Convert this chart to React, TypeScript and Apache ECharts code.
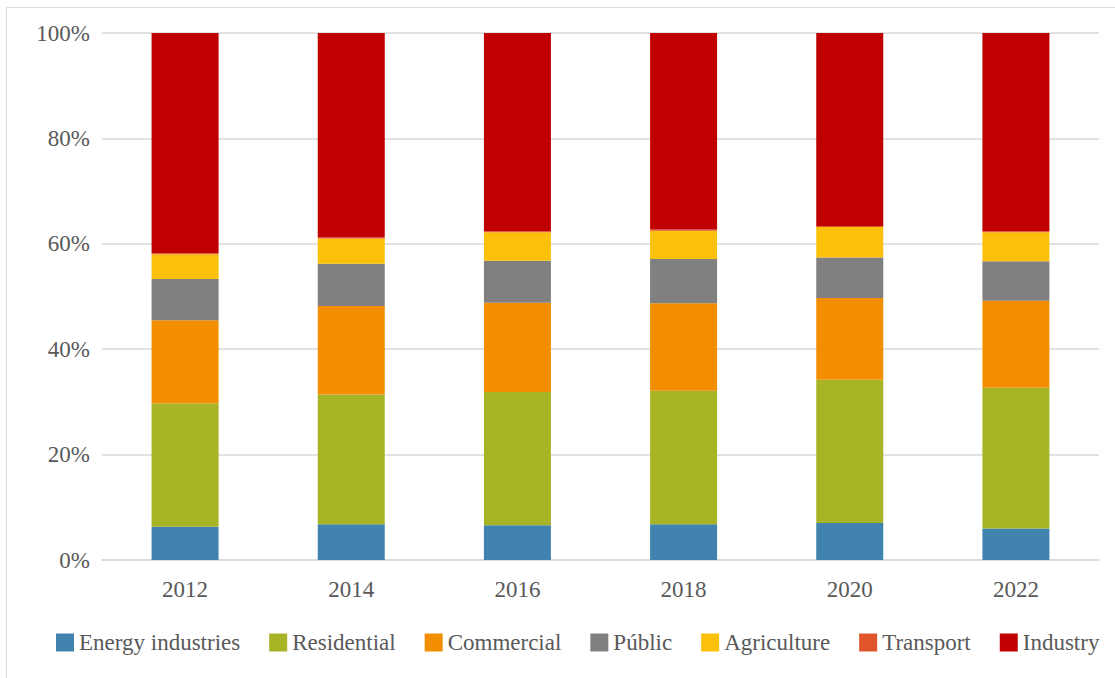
import React, { useEffect, useRef } from "react";
import * as echarts from "echarts";

const years = ["2012", "2014", "2016", "2018", "2020", "2022"];
const energyIndustries = [6.3, 6.8, 6.6, 6.8, 7.0, 6.0];
const residential = [23.4, 24.6, 25.3, 25.3, 27.2, 26.7];
const commercial = [15.8, 16.8, 16.9, 16.6, 15.5, 16.5];
const publicSector = [7.8, 8.0, 8.0, 8.4, 7.7, 7.5];
const agriculture = [4.7, 4.8, 5.4, 5.4, 5.8, 5.5];
const transport = [0.2, 0.2, 0.2, 0.2, 0.2, 0.2];
const industry = [41.8, 38.8, 37.6, 37.3, 36.6, 37.6];

const seriesDefs = [
  { name: "Energy industries", data: energyIndustries, color: "#4183AF" },
  { name: "Residential", data: residential, color: "#A6B426" },
  { name: "Commercial", data: commercial, color: "#F28E00" },
  { name: "Públic", data: publicSector, color: "#808080" },
  { name: "Agriculture", data: agriculture, color: "#FAC00A" },
  { name: "Transport", data: transport, color: "#E0552B" },
  { name: "Industry", data: industry, color: "#C00000" },
];

const FONT = "'Liberation Serif', 'Times New Roman', serif";

export default function App() {
  const ref = useRef<HTMLDivElement>(null);
  useEffect(() => {
    document.body.style.margin = "0";
    if (!ref.current) return;
    const chart = echarts.init(ref.current, null, { renderer: "svg" });
    chart.setOption({
      animation: false,
      backgroundColor: "#ffffff",
      graphic: [
        {
          type: "rect",
          shape: { x: 6.5, y: 7.5, width: 1200, height: 800 },
          style: { fill: "none", stroke: "#D9D9D9", lineWidth: 1 },
          silent: true,
        },
      ],
      grid: { left: 102, right: 16, top: 33, bottom: 118, containLabel: false },
      legend: {
        left: 51,
        top: 626,
        itemWidth: 18,
        itemHeight: 18,
        itemGap: 29,
        icon: "rect",
        textStyle: { fontFamily: FONT, fontSize: 23, color: "#595959" },
        data: seriesDefs.map((s) => s.name),
      },
      xAxis: {
        type: "category",
        data: years,
        axisLine: { show: true, lineStyle: { color: "#D9D9D9", width: 1.5 } },
        axisTick: { show: false },
        axisLabel: { fontFamily: FONT, fontSize: 23, color: "#595959", margin: 18 },
      },
      yAxis: {
        type: "value",
        min: 0,
        max: 100,
        interval: 20,
        axisLine: { show: false },
        axisTick: { show: false },
        splitLine: { lineStyle: { color: "#D9D9D9", width: 1.5 } },
        axisLabel: {
          fontFamily: FONT,
          fontSize: 23,
          color: "#595959",
          margin: 12,
          formatter: "{value}%",
        },
      },
      series: seriesDefs.map((s) => ({
        name: s.name,
        type: "bar",
        stack: "total",
        barWidth: 67,
        data: s.data,
        itemStyle: { color: s.color },
      })),
    });
    return () => chart.dispose();
  }, []);
  return <div ref={ref} style={{ width: 1115, height: 678 }} />;
}
